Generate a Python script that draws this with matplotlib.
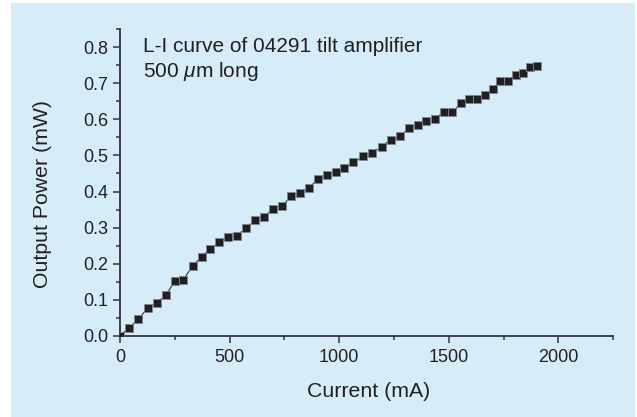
import numpy as np
import matplotlib
matplotlib.use("Agg")
import matplotlib.pyplot as plt
from matplotlib.patches import Rectangle
from matplotlib.ticker import MultipleLocator

plt.rcParams['font.family'] = ['Liberation Sans', 'DejaVu Sans']
plt.rcParams['mathtext.fontset'] = 'custom'
plt.rcParams['mathtext.it'] = 'Liberation Sans:italic'
plt.rcParams['mathtext.rm'] = 'Liberation Sans'

# current (mA) and output power (mW)
current = [0, 41, 84, 126, 169, 210, 251, 289, 331, 372, 412, 451, 492, 533,
           575, 617, 657, 698, 740, 781, 822, 863, 903, 942, 983, 1023, 1065,
           1110, 1150, 1193, 1234, 1277, 1318, 1357, 1397, 1438, 1476, 1515,
           1555, 1594, 1629, 1666, 1702, 1733, 1771, 1804, 1836, 1870, 1900]
power = [0.0, 0.023, 0.046, 0.078, 0.092, 0.114, 0.153, 0.156, 0.194, 0.219,
         0.242, 0.259, 0.274, 0.278, 0.299, 0.320, 0.330, 0.352, 0.359, 0.388,
         0.395, 0.411, 0.434, 0.445, 0.455, 0.466, 0.481, 0.497, 0.506, 0.524,
         0.544, 0.554, 0.575, 0.583, 0.594, 0.601, 0.621, 0.619, 0.644, 0.656,
         0.657, 0.667, 0.685, 0.706, 0.706, 0.724, 0.727, 0.744, 0.748]

title_lines = ["L-I curve of 04291 tilt amplifier", r"500 $\mu$m long"]

txt = '#231f20'
bg = '#d6edf9'

fig = plt.figure(figsize=(6.37, 4.17), dpi=100, facecolor='white')
fig.patches.append(Rectangle((11/637, 0), (635-11)/637, (417-3)/417,
                             transform=fig.transFigure, facecolor=bg,
                             edgecolor='none', zorder=-10))
ax = fig.add_axes([120/637, (417-336)/417, (613.3-120)/637, (336-29)/417])
ax.set_facecolor('none')
ax.set_zorder(5)

ax.plot(current, power, '-', color='#333333', lw=0.8, zorder=2)
ax.plot(current, power, 's', color='#231f20', ms=6.2, mec='#7a8a94', mew=0.6,
        zorder=3)

ax.set_xlim(0, 2250)
ax.set_ylim(0, 0.85)
ax.xaxis.set_major_locator(MultipleLocator(500))
ax.xaxis.set_minor_locator(MultipleLocator(250))
ax.yaxis.set_major_locator(MultipleLocator(0.1))
ax.yaxis.set_minor_locator(MultipleLocator(0.05))
ax.yaxis.set_major_formatter(plt.FuncFormatter(lambda v, p: f"{v:.1f}"))

for s in ['top', 'right']:
    ax.spines[s].set_visible(False)
for s in ['left', 'bottom']:
    ax.spines[s].set_linewidth(1.3)
    ax.spines[s].set_color('#333333')

ax.tick_params(which='major', length=5, width=1.1, color='#333333',
               labelsize=13, labelcolor=txt)
ax.tick_params(axis='y', which='major', pad=3.5)
ax.tick_params(axis='x', which='major', pad=4)
ax.tick_params(which='minor', length=3, width=1.1, color='#333333')

ax.set_xlabel("Current (mA)", fontsize=15.3, color=txt, va='center')
ax.set_ylabel("Output Power (mW)", fontsize=15.3, color=txt, va='center')
ax.xaxis.set_label_coords(0.505, -0.182)
ax.yaxis.set_label_coords(-0.158, 0.464)

ax.text(0.047, 0.926, title_lines[0], transform=ax.transAxes, ha='left',
        va='baseline', fontsize=15, color=txt)
ax.text(0.047, 0.843, title_lines[1], transform=ax.transAxes, ha='left',
        va='baseline', fontsize=15, color=txt)

fig.savefig("out.png", dpi=100, facecolor='white')
